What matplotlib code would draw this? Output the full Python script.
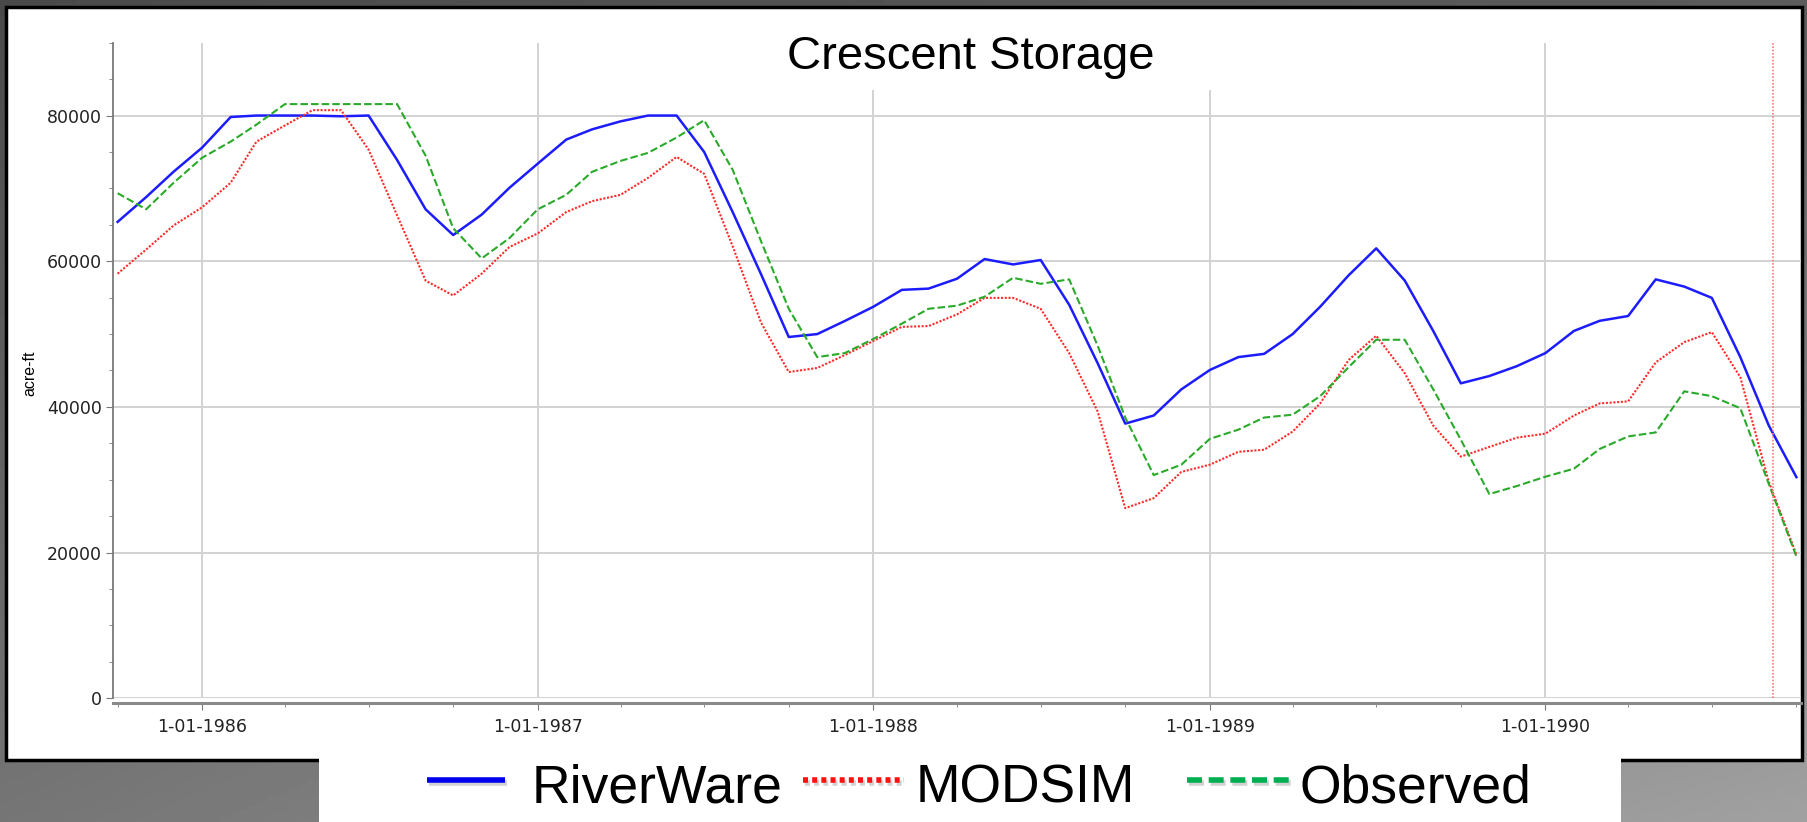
import numpy as np
import pandas as pd
import matplotlib
matplotlib.use("Agg")
import matplotlib.pyplot as plt
import matplotlib.dates as mdates
import matplotlib.ticker as mticker
from matplotlib.patches import Rectangle
from matplotlib.lines import Line2D
import matplotlib.patheffects as pe

# monthly storage, Oct 1985 - Oct 1990 (acre-ft)
dates = pd.date_range("1985-10-01", periods=61, freq="MS")

riverware = [65400, 68800, 72300, 75600, 79800, 80000, 80000, 80000, 79900, 80000,
             73900, 67130, 63600, 66400, 70060, 73400, 76700, 78100, 79200, 80000,
             80000, 75000, 66750, 58180, 49600, 50000, 51800, 53750, 56070, 56240,
             57600, 60300, 59560, 60170, 54030, 46000, 37710, 38820, 42410, 45070,
             46840, 47280, 49990, 53750, 58070, 61770, 57350, 50430, 43240, 44240,
             45600, 47390, 50430, 51820, 52480, 57510, 56520, 54970, 46840, 37440,
             30360]

modsim = [58290, 61600, 64920, 67410, 70780, 76420, 78640, 80740, 80740, 75320,
          66300, 57340, 55300, 58290, 61940, 63820, 66750, 68240, 69120, 71450,
          74320, 72000, 62050, 51540, 44790, 45350, 47120, 49050, 50990, 51100,
          52700, 54970, 54970, 53470, 47390, 39370, 26100, 27480, 31080, 32070,
          33840, 34120, 36610, 40480, 46450, 49770, 44630, 37440, 33180, 34510,
          35780, 36330, 38820, 40480, 40760, 46120, 48890, 50270, 44080, 29700,
          19740]

observed = [69340, 67130, 70780, 74210, 76420, 78750, 81570, 81570, 81570, 81570,
            81570, 74490, 64530, 60390, 63150, 67130, 69120, 72270, 73770, 74880,
            76980, 79360, 72550, 62700, 53470, 46840, 47390, 49330, 51430, 53470,
            53900, 55130, 57730, 56900, 57510, 48400, 38540, 30640, 32070, 35610,
            36880, 38540, 38930, 41480, 45460, 49220, 49220, 42410, 35500, 28040,
            29140, 30420, 31520, 34230, 35950, 36500, 42140, 41480, 39820, 29420,
            19470]

current_date = pd.Timestamp("1990-09-06")
series_names = ["RiverWare", "MODSIM", "Observed"]

W, H = 1807, 822
fig = plt.figure(figsize=(W / 100, H / 100), dpi=100)

# gray slide background
bg = fig.add_axes([0, 0, 1, 1], zorder=-10)
yy, xx = np.mgrid[0:1:200j, 0:1:400j]
tl, bl, tr, br = 0.29, 0.46, 0.36, 0.63
shade = tl * (1 - xx) * (1 - yy) + tr * xx * (1 - yy) + bl * (1 - xx) * yy + br * xx * yy
bg.imshow(shade, cmap="gray", vmin=0, vmax=1, aspect="auto", extent=[0, 1, 0, 1])
bg.axis("off")

# white chart panel with black border
fig.add_artist(Rectangle((6 / W, (H - 760) / H), (1802 - 6) / W, (760 - 7) / H,
                         transform=fig.transFigure, facecolor="white",
                         edgecolor="black", lw=2.5, zorder=-5))

ax = fig.add_axes([113 / W, (H - 698.3) / H, 1688 / W, 655.6 / H], zorder=0)
ax.patch.set_visible(False)

ax.plot(dates, riverware, color="#1c1cff", lw=1.8, zorder=3)
ax.plot(dates, modsim, color="#ff2a2a", lw=1.5, ls=(0, (1, 0.8)), zorder=3)
ax.plot(dates, observed, color="#2aaa2a", lw=1.5, ls=(0, (3.6, 1.5)), zorder=3)
ax.axvline(current_date, color="#ff7a7a", lw=1.2, ls=(0, (1, 1)), zorder=3)

ax.set_ylim(0, 90000)
ax.set_xlim(pd.Timestamp("1985-09-26"), pd.Timestamp("1990-10-06"))

ax.yaxis.set_major_locator(mticker.FixedLocator([0, 20000, 40000, 60000, 80000]))
ax.yaxis.set_minor_locator(mticker.MultipleLocator(5000))
ax.yaxis.set_major_formatter(mticker.FuncFormatter(lambda v, p: "%d" % v))
ax.xaxis.set_major_locator(mdates.YearLocator())
ax.xaxis.set_minor_locator(mdates.MonthLocator(bymonth=[4, 7, 10]))
ax.xaxis.set_major_formatter(mticker.FuncFormatter(
    lambda v, p: "1-01-%d" % mdates.num2date(v).year))

ax.grid(True, which="major", color="#d2d2d2", lw=1.4)
for s in ["top", "right"]:
    ax.spines[s].set_visible(False)
ax.spines["left"].set_color("#7a7a7a")
ax.spines["left"].set_linewidth(1.3)
ax.spines["bottom"].set_color("#8a8a8a")
ax.spines["bottom"].set_linewidth(2.2)
ax.spines["bottom"].set_position(("outward", 3.5))

ax.tick_params(axis="both", which="major", length=5, color="#7a7a7a",
               labelsize=12.5, labelcolor="#222222")
ax.tick_params(axis="both", which="minor", length=3, color="#7a7a7a")
ax.tick_params(axis="y", which="major", pad=3)
ax.tick_params(axis="x", which="major", pad=6)

# white block behind the title hides the top of the gridlines
ax.add_patch(Rectangle((0.383, 0.928), 0.28, 0.08, transform=ax.transAxes,
                       facecolor="white", edgecolor="none", zorder=1.7,
                       clip_on=False))
fig.text(971 / W, (H - 69) / H, "Crescent Storage", fontsize=34,
         family="Liberation Sans", ha="center", va="baseline", zorder=10)
fig.text(30 / W, (H - 373) / H, "acre-ft", fontsize=11.5, family="Liberation Sans",
         rotation=90, ha="center", va="center")

# legend strip below the panel
fig.add_artist(Rectangle((319 / W, 0), (1621 - 319) / W, (H - 757) / H,
                         transform=fig.transFigure, facecolor="white",
                         edgecolor="none", zorder=5))
shadow = [pe.SimpleLineShadow(offset=(1.5, -2), shadow_color="gray", alpha=0.35),
          pe.Normal()]
ly = (H - 780) / H
legend_items = [
    (427, 505, "#0000f0", "-", 532),
    (803, 904, "#ff1010", (0, (0.9, 0.75)), 916),
    (1187, 1289, "#00b050", (0, (2.7, 1.2)), 1300),
]
for (x0, x1, c, ls, tx), name in zip(legend_items, series_names):
    fig.add_artist(Line2D([x0 / W, x1 / W], [ly, ly], transform=fig.transFigure,
                          color=c, lw=4, ls=ls, solid_capstyle="butt",
                          dash_capstyle="butt", path_effects=shadow, zorder=6))
    fig.text(tx / W, (H - 802) / H, name, fontsize=38.5, family="Liberation Sans",
             ha="left", va="baseline", zorder=7)

fig.savefig("out.png", dpi=100)
